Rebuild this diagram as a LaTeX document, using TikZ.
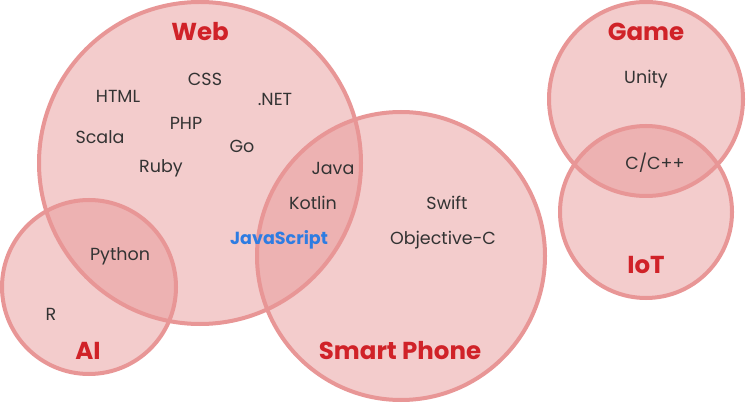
\documentclass[tikz,border=0pt]{standalone}
\usepackage{fontspec}
\setmainfont{Poppins}
\usetikzlibrary{positioning}
\definecolor{areafill}{RGB}{231,153,153}
\definecolor{arealine}{RGB}{232,150,150}
\definecolor{titlered}{RGB}{208,34,40}
\definecolor{langgray}{RGB}{51,51,51}
\definecolor{jsblue}{RGB}{46,124,226}
\begin{document}
\begin{tikzpicture}[x=1pt,y=-1pt]
			\tikzstyle{area}=[fill=areafill,fill opacity=0.5,draw=none]
			\tikzstyle{rim}=[draw=arealine,line width=4pt]
			\tikzstyle{title}=[text=titlered,font=\fontsize{24.5}{26}\selectfont\bfseries]
			\tikzstyle{lang}=[text=langgray,font=\fontsize{17.5}{19}\selectfont]
			\useasboundingbox (0,0) rectangle (746,403);
			
			\fill[area] (200,163) circle (161pt);
			\fill[area] (401,256) circle (144pt);
			\fill[area] (89,287) circle (87pt);
			\fill[area] (646,99) circle (97pt);
			\fill[area] (646,212) circle (86pt);
			\draw[rim] (200,163) circle (161pt);
			\draw[rim] (401,256) circle (144pt);
			\draw[rim] (89,287) circle (87pt);
			\draw[rim] (646,99) circle (97pt);
			\draw[rim] (646,212) circle (86pt);
			
			\node[title] (web) at (200,32) {Web};
			\node[title] (phone) at (400,351) {Smart Phone};
			\node[title] (ai) at (88,351) {AI};
			\node[title] (game) at (646,32) {Game};
			\node[title] (iot) at (646,265) {IoT};
			
			\node[lang] (css) at (205,79) {CSS};
			\node[lang] (html) at (118,96) {HTML};
			\node[lang] (dotnet) at (275,99) {.NET};
			\node[lang] (php) at (186,123) {PHP};
			\node[lang] (scala) at (100,137) {Scala};
			\node[lang] (go) at (242,146) {Go};
			\node[lang] (ruby) at (161,168) {Ruby};
			\node[lang] (java) at (333,168) {Java};
			\node[lang] (kotlin) at (313,203) {Kotlin};
			\node[text=jsblue,font=\fontsize{17.5}{19}\selectfont\bfseries] (js) at (279,240) {JavaScript};
			\node[lang] (python) at (120,256) {Python};
			\node[lang] (r) at (51,314) {R};
			\node[lang] (swift) at (447,203) {Swift};
			\node[lang] (objc) at (443,240) {Objective-C};
			\node[lang] (unity) at (646,79) {Unity};
			\node[lang] (cpp) at (655,163) {C/C++};
\end{tikzpicture}
\end{document}
